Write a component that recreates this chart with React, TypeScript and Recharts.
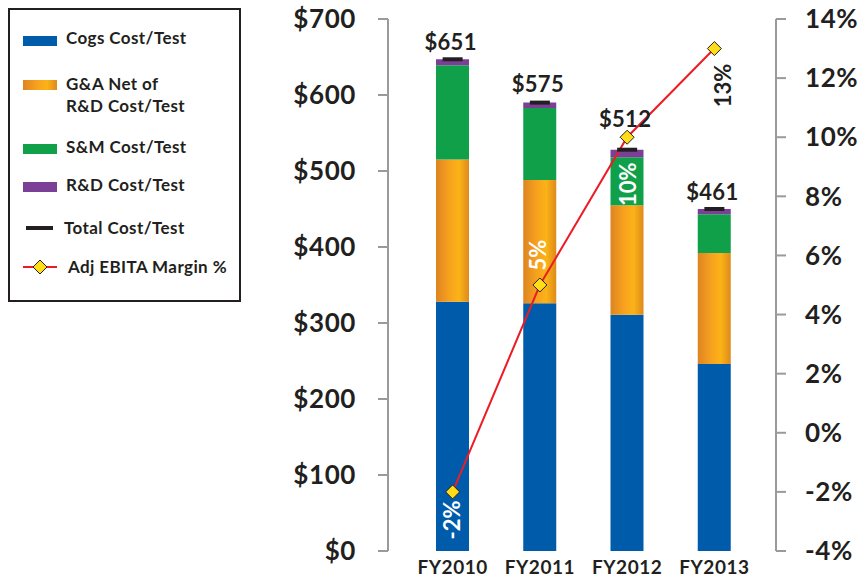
import React from 'react';
import { ComposedChart, Bar, Line, XAxis, YAxis, Legend, LabelList } from 'recharts';

const categories = ['FY2010', 'FY2011', 'FY2012', 'FY2013'];
const cogsCost = [328, 326, 311, 246];
const gaNetCost = [187, 162, 144, 146];
const smCost = [124, 95, 63, 51];
const rdCost = [8, 7, 10, 7];
const totalCostMarker = [647, 590, 528, 450];
const totalCostLabels = [651, 575, 512, 461];
const ebitaMargin = [-2, 5, 10, 13];
const leftTicks = [0, 100, 200, 300, 400, 500, 600, 700];
const rightTicks = [-4, -2, 0, 2, 4, 6, 8, 10, 12, 14];

const data = categories.map((c, i) => ({
  category: c,
  cogs: cogsCost[i],
  ga: gaNetCost[i],
  sm: smCost[i],
  rd: rdCost[i],
  total: totalCostMarker[i],
  totalLabel: totalCostLabels[i],
  margin: ebitaMargin[i],
}));

const FONT = 'Lato, "DejaVu Sans", sans-serif';
const INK = '#231f20';
const BLUE = '#005bab';
const GREEN = '#10a04a';
const PURPLE = '#7b3f98';
const RED = '#ed1c24';
const YELLOW = '#ffde17';
const AXIS = '#9a9a9a';

// label placement styling (not data)
const totalLabelGap = [17, 18, 30, 17];
const marginLabelStyle = [
  { dx: 0, dy: 28, fill: '#ffffff' },
  { dx: -2, dy: -30, fill: '#ffffff' },
  { dx: 1, dy: 47, fill: '#ffffff' },
  { dx: 9, dy: 37, fill: INK },
];

const Diamond = (props: any) => {
  const { cx, cy } = props;
  if (cx == null || cy == null) return null;
  const r = 7;
  return (
    <path
      d={`M${cx},${cy - r} L${cx + r},${cy} L${cx},${cy + r} L${cx - r},${cy} Z`}
      fill={YELLOW}
      stroke={INK}
      strokeWidth={1}
    />
  );
};

const TotalMark = (props: any) => {
  const { cx, cy } = props;
  if (cx == null || cy == null) return null;
  return <rect x={cx - 10} y={cy - 2} width={20} height={4} fill={INK} />;
};

const TotalLabel = (props: any) => {
  const { x, y, index } = props;
  return (
    <text
      x={x - 2}
      y={y - totalLabelGap[index]}
      dy="0.35em"
      textAnchor="middle"
      fontFamily={FONT}
      fontWeight={700}
      fontSize={22}
      letterSpacing={0.3}
      fill={INK}
    >
      {`$${totalCostLabels[index]}`}
    </text>
  );
};

const MarginLabel = (props: any) => {
  const { x, y, index } = props;
  const s = marginLabelStyle[index];
  const lx = x + s.dx;
  const ly = y + s.dy;
  return (
    <text
      x={lx}
      y={ly}
      dy="0.35em"
      textAnchor="middle"
      transform={`rotate(-90, ${lx}, ${ly})`}
      fontFamily={FONT}
      fontWeight={700}
      fontSize={22}
      fill={s.fill}
    >
      {`${ebitaMargin[index]}%`}
    </text>
  );
};

const legendText: React.CSSProperties = {
  position: 'absolute',
  fontFamily: FONT,
  fontWeight: 700,
  fontSize: 17,
  letterSpacing: 0.4,
  color: INK,
  lineHeight: '22px',
  whiteSpace: 'nowrap',
};

const renderLegend = () => {
  // coordinates relative to inner box origin (page x/y minus 10)
  const sw = (top: number, bg: string) => (
    <div style={{ position: 'absolute', left: 13, top, width: 34, height: 10, background: bg }} />
  );
  return (
    <div
      style={{
        position: 'relative',
        width: 229,
        height: 290,
        border: `2px solid ${INK}`,
        background: '#ffffff',
      }}
    >
      {sw(26, BLUE)}
      <div style={{ ...legendText, left: 56, top: 17 }}>Cogs Cost/Test</div>

      {sw(70, 'linear-gradient(to right, #dd8420, #f7a11f 40%, #fbb316 70%, #dd8a1c)')}
      <div style={{ ...legendText, left: 56, top: 63 }}>G&amp;A Net of</div>
      <div style={{ ...legendText, left: 56, top: 85 }}>R&amp;D Cost/Test</div>

      {sw(134, GREEN)}
      <div style={{ ...legendText, left: 56, top: 126 }}>S&amp;M Cost/Test</div>

      {sw(172, PURPLE)}
      <div style={{ ...legendText, left: 56, top: 164 }}>R&amp;D Cost/Test</div>

      <div style={{ position: 'absolute', left: 16, top: 216, width: 27, height: 4, background: INK }} />
      <div style={{ ...legendText, left: 54, top: 207 }}>Total Cost/Test</div>

      <svg style={{ position: 'absolute', left: 10, top: 247 }} width={40} height={20}>
        <line x1={3} y1={10} x2={37} y2={10} stroke={RED} strokeWidth={2} />
        <path d="M20,3 L27,10 L20,17 L13,10 Z" fill={YELLOW} stroke={INK} strokeWidth={1} />
      </svg>
      <div style={{ ...legendText, left: 58, top: 246 }}>Adj EBITA Margin %</div>
    </div>
  );
};

const tickStyleY = { fontFamily: FONT, fontWeight: 700, fontSize: 26, letterSpacing: 0.6, fill: INK };

export default function App() {
  return (
    <div style={{ position: 'absolute', left: 0, top: 0, width: 865, height: 581, background: '#ffffff' }}>
      <ComposedChart
        width={865}
        height={581}
        data={data}
        margin={{ top: 19, right: 0, bottom: 0, left: 0 }}
        barCategoryGap={0}
      >
        <defs>
          <linearGradient id="gaGrad" x1="0" y1="0" x2="1" y2="0">
            <stop offset="0%" stopColor="#dd8420" />
            <stop offset="40%" stopColor="#f7a11f" />
            <stop offset="70%" stopColor="#fbb316" />
            <stop offset="100%" stopColor="#dd8a1c" />
          </linearGradient>
        </defs>
        <XAxis
          dataKey="category"
          axisLine={false}
          tickLine={false}
          padding={{ left: 21, right: 18 }}
          height={30}
          tickMargin={4}
          tick={{ fontFamily: FONT, fontWeight: 700, fontSize: 19, letterSpacing: 0.5, fill: INK }}
        />
        <YAxis
          yAxisId="left"
          orientation="left"
          width={388}
          domain={[0, 700]}
          ticks={leftTicks}
          interval={0}
          tickFormatter={(v: number) => `$${v}`}
          axisLine={{ stroke: AXIS, strokeWidth: 2 }}
          tickLine={{ stroke: AXIS, strokeWidth: 2 }}
          tickSize={10}
          tickMargin={22}
          tick={tickStyleY}
        />
        <YAxis
          yAxisId="right"
          orientation="right"
          width={89}
          domain={[-4, 14]}
          ticks={rightTicks}
          interval={0}
          tickFormatter={(v: number) => `${v}%`}
          axisLine={{ stroke: AXIS, strokeWidth: 2 }}
          tickLine={{ stroke: AXIS, strokeWidth: 2 }}
          tickSize={10}
          tickMargin={19}
          tick={tickStyleY}
        />
        <Legend
          layout="vertical"
          align="center"
          verticalAlign="middle"
          content={renderLegend}
          wrapperStyle={{ left: 8, top: 8, width: 233, height: 294 }}
        />
        <Bar yAxisId="left" dataKey="cogs" name="Cogs Cost/Test" stackId="s" fill={BLUE} barSize={33} isAnimationActive={false} />
        <Bar yAxisId="left" dataKey="ga" name="G&A Net of R&D Cost/Test" stackId="s" fill="url(#gaGrad)" barSize={33} isAnimationActive={false} />
        <Bar yAxisId="left" dataKey="sm" name="S&M Cost/Test" stackId="s" fill={GREEN} barSize={33} isAnimationActive={false} />
        <Bar yAxisId="left" dataKey="rd" name="R&D Cost/Test" stackId="s" fill={PURPLE} barSize={33} isAnimationActive={false} />
        <Line
          yAxisId="left"
          dataKey="total"
          name="Total Cost/Test"
          stroke="none"
          dot={<TotalMark />}
          activeDot={false}
          isAnimationActive={false}
        >
          <LabelList dataKey="totalLabel" content={<TotalLabel />} />
        </Line>
        <Line
          yAxisId="right"
          dataKey="margin"
          name="Adj EBITA Margin %"
          stroke={RED}
          strokeWidth={2}
          dot={<Diamond />}
          activeDot={false}
          isAnimationActive={false}
        >
          <LabelList dataKey="margin" content={<MarginLabel />} />
        </Line>
      </ComposedChart>
    </div>
  );
}
